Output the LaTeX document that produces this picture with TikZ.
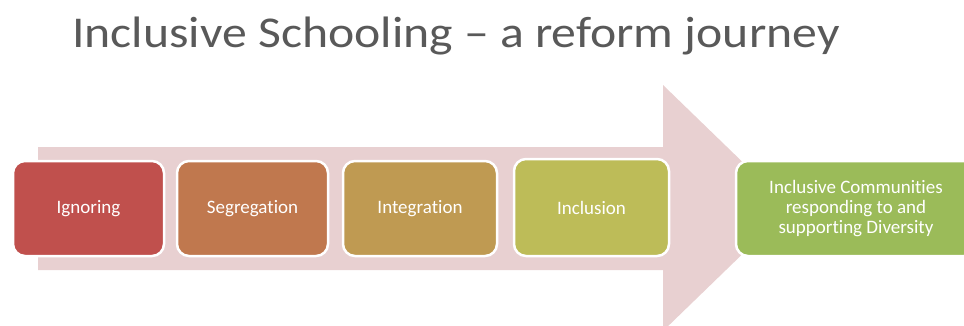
\documentclass[tikz,border=0pt]{standalone}
\usepackage{fontspec}
\setmainfont{Carlito}[Ligatures=NoCommon]
\definecolor{arrowpink}{HTML}{E8D0D1}
\definecolor{titlegray}{HTML}{595959}
\definecolor{ignorered}{HTML}{C0504D}
\definecolor{segorange}{HTML}{C0784E}
\definecolor{integbrown}{HTML}{BF9A52}
\definecolor{inclolive}{HTML}{BDBC58}
\definecolor{commgreen}{HTML}{9BBB59}

\begin{document}
\begin{tikzpicture}[x=1pt,y=-1pt,
    stage/.style={draw=white, line width=2.5pt, rounded corners=12pt,
        minimum height=95pt, text=white, align=center,
        font=\fontsize{19}{20}\selectfont}]
					\useasboundingbox (0,0) rectangle (964,325);
					\clip (0,0) rectangle (964,325);
					\node[text=titlegray, font=\fontsize{44}{48}\selectfont, xscale=1.13] (title) at (456,36) {Inclusive Schooling -- a reform journey};
					\fill[arrowpink] (38,147) -- (663,147) -- (663,85) -- (790,208) -- (663,331) -- (663,270) -- (38,270) -- cycle;
					\node[stage, fill=ignorered, minimum width=151pt] (ign) at (88.5,208.5) {Ignoring};
					\node[stage, fill=segorange, minimum width=151pt] (seg) at (252.5,208.5) {Segregation};
					\node[stage, fill=integbrown, minimum width=154pt] (int) at (420,208.5) {Integration};
					\node[stage, fill=inclolive, minimum width=155pt, minimum height=97pt] (inc) at (591.5,207.5) {Inclusion};
					\node[stage, fill=commgreen, minimum width=240pt] (com) at (856,208.5) {Inclusive Communities\\responding to and\\supporting Diversity};
				\end{tikzpicture}
\end{document}
